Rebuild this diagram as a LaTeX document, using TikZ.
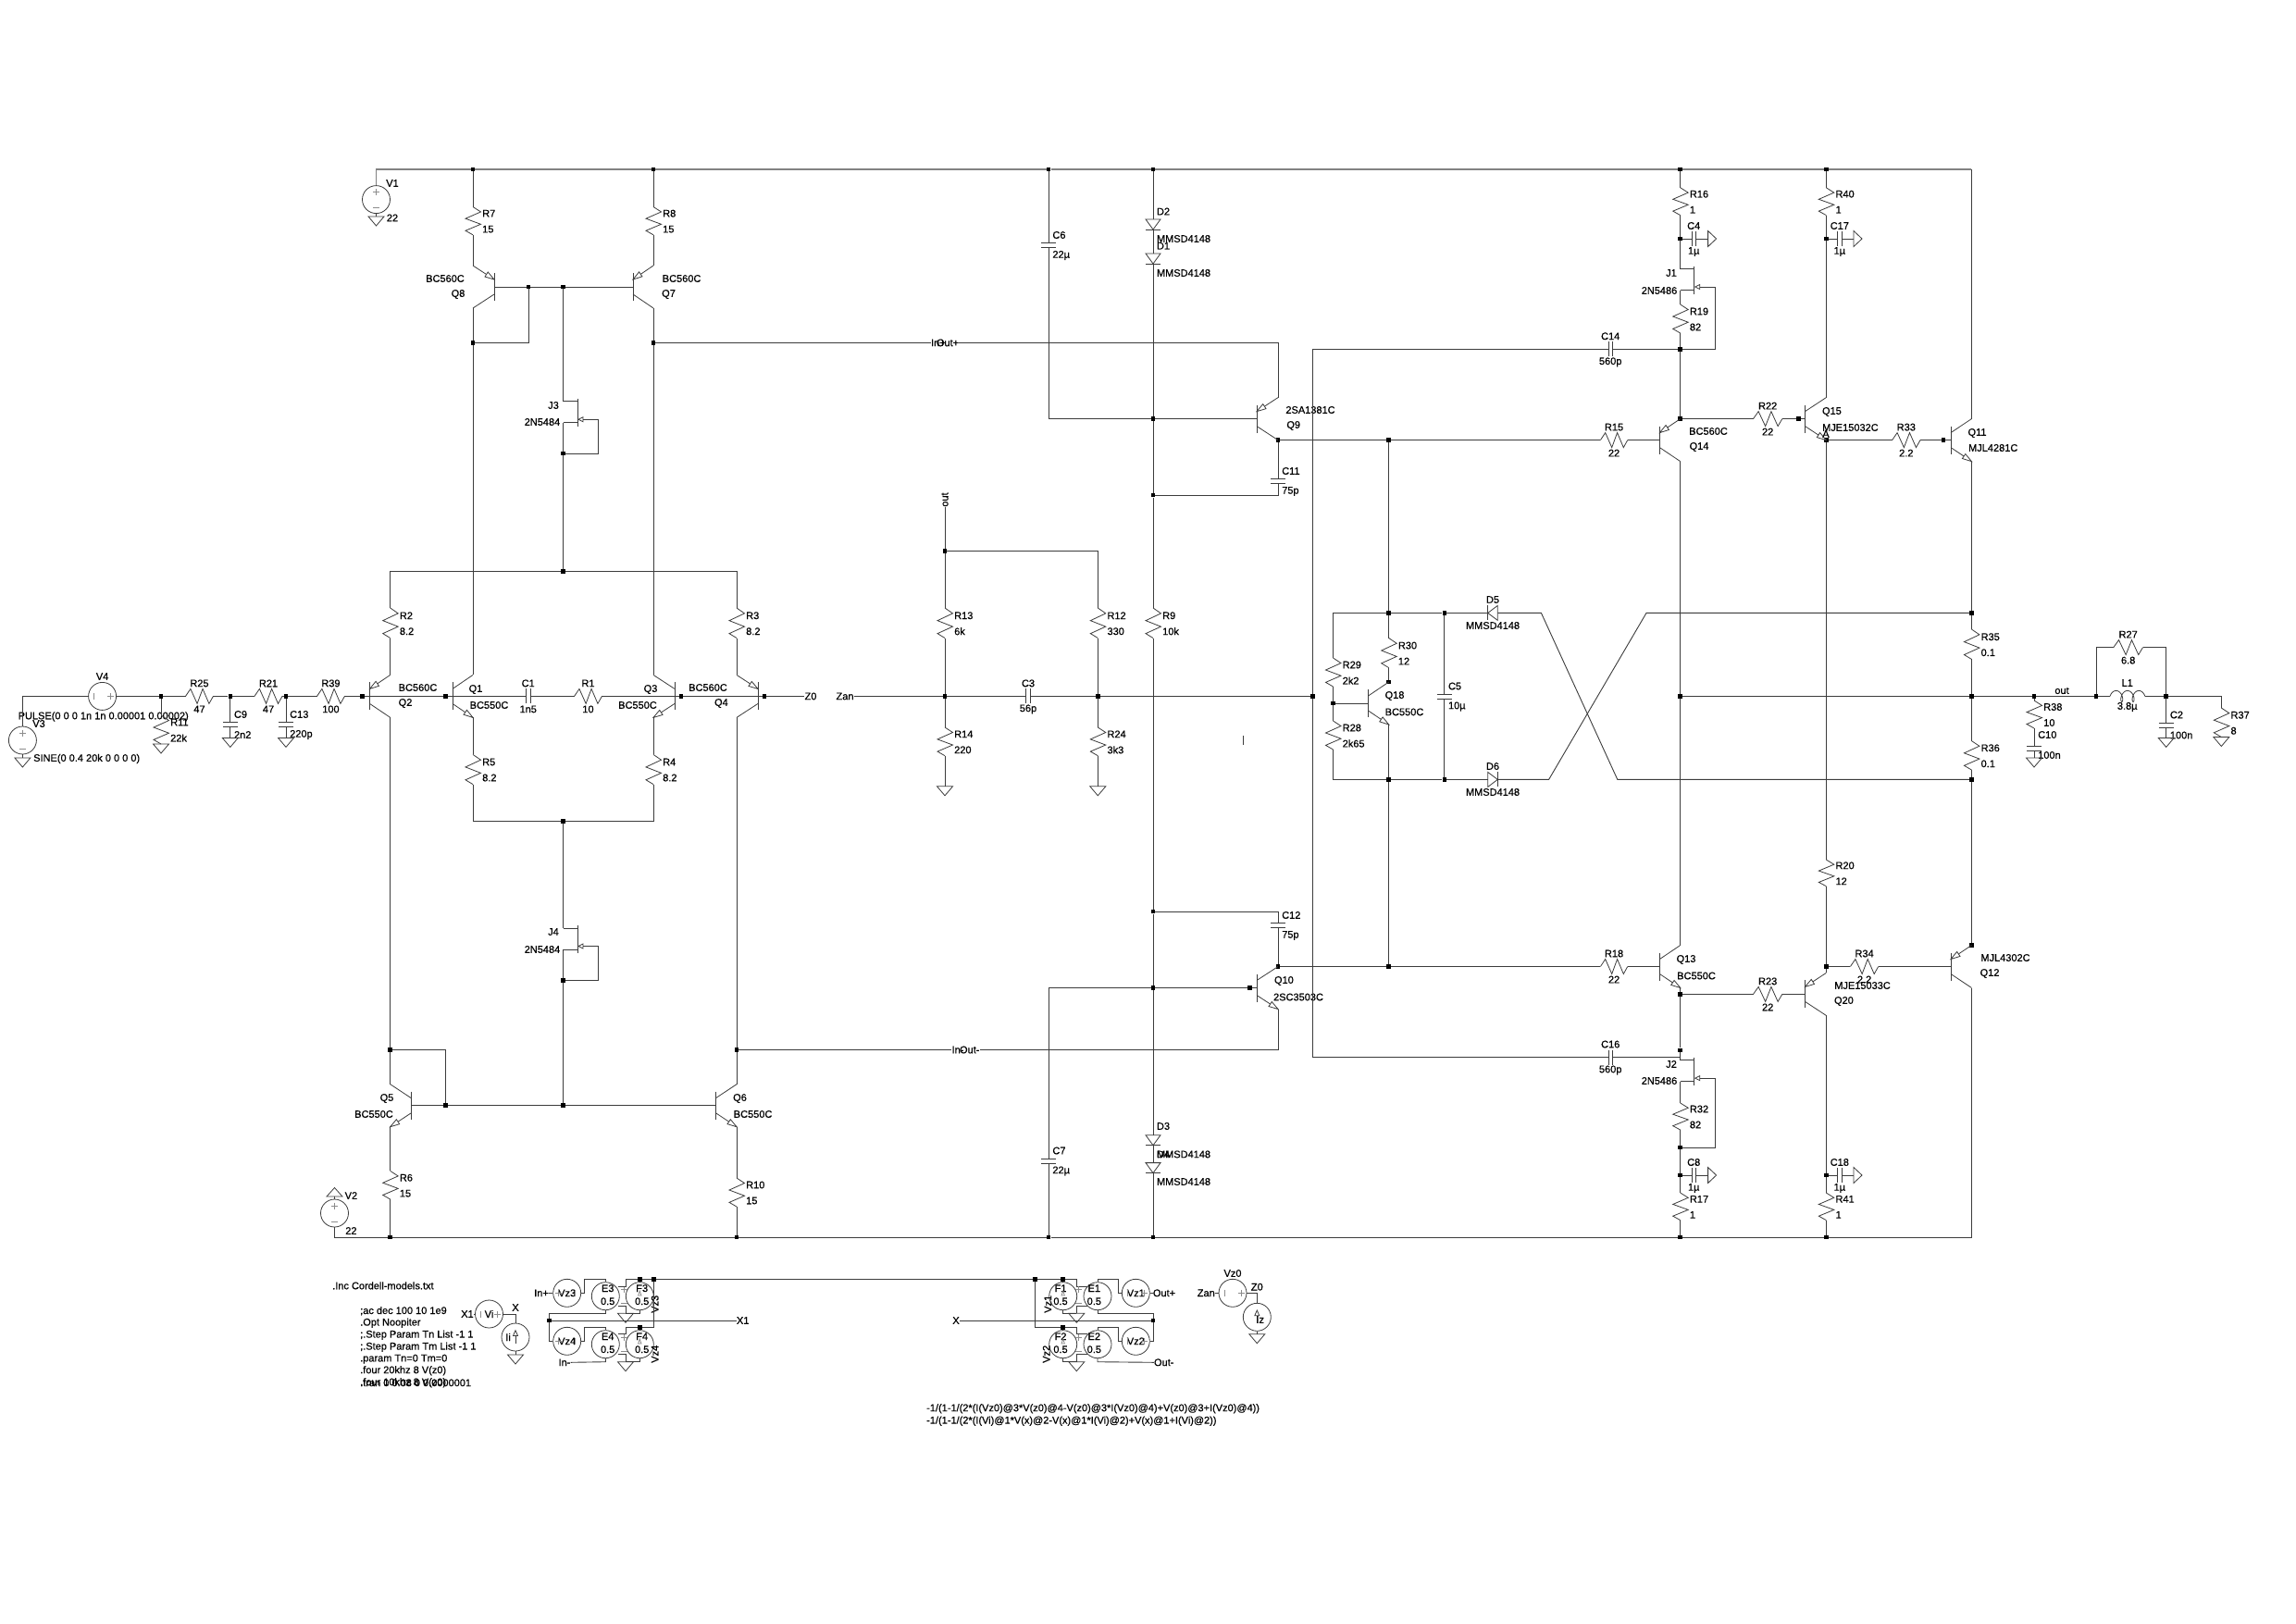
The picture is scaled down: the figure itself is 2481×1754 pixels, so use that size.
\documentclass[tikz,border=0pt]{standalone}
\usepackage{fontspec}
\newfontfamily\labelFont{Liberation Sans}[FakeBold=0.5]
\usetikzlibrary{calc}
\definecolor{wireColor}{RGB}{60,60,60}
\definecolor{markColor}{RGB}{140,140,140}
\definecolor{railColor}{RGB}{130,130,130}
\tikzstyle{sheet} = [x = 1pt, y = -1pt]
\tikzstyle{wire} = [color=wireColor, line width=.9pt]
\tikzstyle{railWire} = [color=railColor, line width=1.5pt]
\tikzstyle{symbolLine} = [color=wireColor, line width=.8pt]
\tikzstyle{markLine} = [color=markColor, line width=.8pt]
\tikzstyle{labelText} = [font=\fontsize{11}{11}\labelFont, inner sep=0pt, text=black]
\tikzstyle{junctionDot} = [rectangle, fill=black, inner sep=0pt, minimum size=4.5pt]
\tikzstyle{sourceCircle} = [labelText, circle, draw=wireColor, line width=.8pt, minimum size=30pt]
\newcommand{\junction}[3]{\node [junctionDot] (#1) at (#2,#3) {};}
\newcommand{\partText}[4]{\node [labelText] (#1) at (#2,#3) {#4};}
\newcommand{\partTextRight}[4]{\node [labelText, anchor=west] (#1) at (#2,#3) {#4};}
\newcommand{\plusMark}[2]{\draw [markLine] (#1-3.5,#2) -- (#1+3.5,#2) (#1,#2-3.5) -- (#1,#2+3.5);}
\newcommand{\minusMark}[2]{\draw [markLine] (#1-3.5,#2) -- (#1+3.5,#2);}
\newcommand{\tickMark}[2]{\draw [markLine] (#1,#2-3.5) -- (#1,#2+3.5);}
\newcommand{\verticalResistor}[6]{
  \pgfmathsetmacro{\resLength}{#4 - #3}
  \pgfmathsetmacro{\resMiddle}{(#3 + #4) / 2}
  \coordinate (#1a) at (#2,#3);
  \coordinate (#1b) at (#2,#4);
  \draw [symbolLine] (#1a) -- (#2+8.5,#3+.18*\resLength) -- (#2-8,#3+.42*\resLength) -- (#2+8.5,#3+.62*\resLength) -- (#2-8,#3+.85*\resLength) -- (#1b);
  \partTextRight{#1Name}{#2+10}{\resMiddle-8}{#5}
  \partTextRight{#1Value}{#2+10}{\resMiddle+9}{#6}
}
\newcommand{\horizontalResistor}[6]{
  \pgfmathsetmacro{\resLength}{#3 - #2}
  \pgfmathsetmacro{\resMiddle}{(#2 + #3) / 2}
  \coordinate (#1a) at (#2,#4);
  \coordinate (#1b) at (#3,#4);
  \draw [symbolLine] (#1a) -- (#2+.18*\resLength,#4-8) -- (#2+.42*\resLength,#4+8) -- (#2+.62*\resLength,#4-8) -- (#2+.85*\resLength,#4+8) -- (#1b);
  \partText{#1Name}{\resMiddle}{#4-14}{#5}
  \partText{#1Value}{\resMiddle}{#4+14}{#6}
}
\newcommand{\verticalCap}[6][0]{
  \coordinate (#2a) at (#3,#4-2.4);
  \coordinate (#2b) at (#3,#4+2.4);
  \draw [symbolLine] (#3-8,#4-2.4) -- (#3+8,#4-2.4) (#3-8,#4+2.4) -- (#3+8,#4+2.4);
  \partTextRight{#2Name}{#3+4}{#4-11+#1}{#5}
  \partTextRight{#2Value}{#3+4}{#4+11+#1}{#6}
}
\newcommand{\horizontalCap}[5]{
  \coordinate (#1a) at (#2-2.2,#3);
  \coordinate (#1b) at (#2+2.2,#3);
  \draw [symbolLine] (#2-2.2,#3-8) -- (#2-2.2,#3+8) (#2+2.2,#3-8) -- (#2+2.2,#3+8);
  \partText{#1Name}{#2}{#3-14}{#4}
  \partText{#1Value}{#2}{#3+14}{#5}
}
\newcommand{\groundDown}[3]{
  \coordinate (#1) at (#2,#3);
  \draw [symbolLine] (#2-8.5,#3) -- (#2+8.5,#3) -- (#2,#3+10) -- cycle;
}
\newcommand{\groundUp}[3]{
  \coordinate (#1) at (#2,#3);
  \draw [symbolLine] (#2-8.5,#3) -- (#2+8.5,#3) -- (#2,#3-9.5) -- cycle;
}
\newcommand{\groundRight}[3]{
  \coordinate (#1) at (#2,#3);
  \draw [symbolLine] (#2,#3-8.5) -- (#2,#3+8.5) -- (#2+9,#3) -- cycle;
}
\newcommand{\hollowArrow}[2]{
  \coordinate (arrowBack) at ($(#1)!10pt!(#2)$);
  \filldraw [symbolLine, fill=white] (#1) -- ($(arrowBack)!3pt!90:(#1)$) -- ($(arrowBack)!3pt!-90:(#1)$) -- cycle;
}
\newcommand{\bjtBody}[5]{
  \coordinate (#1b) at (#2,#3);
  \coordinate (#1e) at (#4,{#3+(#5)*23});
  \coordinate (#1c) at (#4,{#3-(#5)*23});
  \coordinate (#1eb) at (#2,{#3+(#5)*8});
  \coordinate (#1cb) at (#2,{#3-(#5)*8});
  \draw [symbolLine] (#2,#3-15) -- (#2,#3+15);
  \draw [symbolLine] (#1eb) -- (#1e);
  \draw [symbolLine] (#1cb) -- (#1c);
}
\newcommand{\npnTransistor}[5]{\bjtBody{#1}{#2}{#3}{#4}{#5}\hollowArrow{#1e}{#1eb}}
\newcommand{\pnpTransistor}[5]{\bjtBody{#1}{#2}{#3}{#4}{#5}\hollowArrow{#1eb}{#1e}}
\newcommand{\jfetPart}[5]{
  \coordinate (#1d) at (#2,#4);
  \coordinate (#1s) at (#2,#4+23);
  \coordinate (#1g) at (#5,#4+19.5);
  \draw [symbolLine] (#3,#4-3) -- (#3,#4+27);
  \draw [symbolLine] (#1d) -- (#3,#4);
  \draw [symbolLine] (#1s) -- (#3,#4+23);
  \draw [symbolLine] (#3+6,#4+19.5) -- (#1g);
  \draw [symbolLine] (#3+1,#4+19.5) -- (#3+6,#4+17) -- (#3+6,#4+22) -- cycle;
}
\newcommand{\downDiode}[3]{
  \coordinate (#1a) at (#2,#3);
  \coordinate (#1b) at (#2,#3+11);
  \draw [symbolLine] (#2-8,#3) -- (#2+8,#3) -- (#1b) -- cycle;
  \draw [symbolLine] (#2-8,#3+11) -- (#2+8,#3+11);
}
\newcommand{\leftDiode}[3]{
  \coordinate (#1a) at (#2-5.3,#3);
  \coordinate (#1b) at (#2+5.3,#3);
  \draw [symbolLine] (#1b) -- (#2+5.3,#3-8) -- (#1a) -- (#2+5.3,#3+8) -- cycle;
  \draw [symbolLine] (#2-5.3,#3-8) -- (#2-5.3,#3+8);
}
\newcommand{\rightDiode}[3]{
  \coordinate (#1a) at (#2-5.3,#3);
  \coordinate (#1b) at (#2+5.3,#3);
  \draw [symbolLine] (#1a) -- (#2-5.3,#3-8) -- (#1b) -- (#2-5.3,#3+8) -- cycle;
  \draw [symbolLine] (#2+5.3,#3-8) -- (#2+5.3,#3+8);
}
\newcommand{\coilPart}[3]{
  \coordinate (#1a) at (#2,#3);
  \coordinate (#1b) at (#2+37.8,#3);
  \draw [symbolLine] plot [domain=0:900, samples=120, smooth, variable=\coilAngle] ({#2+.0342*\coilAngle-3.5*cos(\coilAngle)+3.5},{#3-6*sin(\coilAngle)});
}
\newcommand{\voltageSource}[3]{
  \node [sourceCircle] (#1) at (#2,#3) {};
  \plusMark{#2}{#3-8}
  \minusMark{#2}{#3+9}
}
\newcommand{\tickPlusSource}[4]{
  \node [sourceCircle] (#1) at (#2,#3) {#4};
  \tickMark{#2-9}{#3}
  \plusMark{#2+9}{#3}
}
\newcommand{\plusTickSource}[4]{
  \node [sourceCircle] (#1) at (#2,#3) {#4};
  \plusMark{#2-9}{#3}
  \tickMark{#2+9}{#3}
}
\newcommand{\currentSource}[3]{
  \node [sourceCircle] (#1) at (#2,#3) {};
  \draw [symbolLine] (#2,#3+6.5) -- (#2,#3-1.6);
  \draw [symbolLine] (#2,#3-7.3) -- (#2-2.5,#3-1.6) -- (#2+2.5,#3-1.6) -- cycle;
}
\newcommand{\currentMark}[2]{
  \draw [markLine] (#1,#2-5.7) -- (#1-1.7,#2-.7) -- (#1+1.7,#2-.7) -- cycle;
}
\newcommand{\behaviorSource}[5]{
  \node [sourceCircle] (#1) at (#2,#3) {};
  \partText{#1Name}{#2+#5}{#3-8.5}{#1}
  \partText{#1Value}{#2+#5}{#3+5.5}{#4}
}
\newcommand{\terminalMarks}[2]{
  \plusMark{#1}{#2-7.5}
  \minusMark{#1}{#2+7.5}
}
\begin{document}
\begin{tikzpicture}[sheet]
\useasboundingbox (0,0) rectangle (2481,1754);
\foreach \dotName/\dotX/\dotY in {jR7/511/183, jR8/706/183, jC6/1133.2/183, jD2/1246/183, jR16/1815.7/183, jR40/1973.3/183,
  jR6/421.7/1337, jR10/796/1337, jC7/1133.2/1337, jD4/1246/1337, jR17/1815.7/1337, jR41/1973.3/1337,
  jQ8c/511/370.4, jQ7c/706/370.4, jQ8b/571/310, jJ3/608.7/310, jJ3low/608.7/490, jTail/608.7/617.4,
  jQ2b/391.3/752.4, jQ1b/481.5/752.4, jQ3b/736/752.4, jQ4b/826/752.4, jR11/174/752.4, jC9/248.8/752.4, jC13/309/752.4,
  jJ4top/608.7/887.5, jJ4low/608.7/1059.7, jJ4bottom/608.7/1194.7, jQ5c/421.7/1134.5, jQ5b/481.5/1194.7, jQ6c/796/1134.5,
  jR13top/1021/595.4, jR13mid/1021/752.4, jR12mid/1186.3/752.4, jFeed/1418.3/752.4,
  jQ9b/1246/452.6, jC11/1246/535.2, jQ9c/1381/475.6, jQ18top/1500.7/475.6, jC12/1246/985.2, jQ10b/1246/1067.5,
  jQ10base/1350.5/1067.5, jQ10c/1381/1044.5, jQ18low/1500.7/1044.5,
  jBiasTop/1500.7/662.4, jBiasLow/1500.7/842.4, jC5top/1560.8/662.4, jC5low/1560.8/842.4, jQ18b/1440.5/760, jQ18c/1500.7/737,
  jC4/1815.7/258, jC17/1973.3/258, jJ1low/1815.7/377.3, jQ14e/1815.7/452.6, jQ15b/1943.5/452.6, jQ15e/1973.3/475.6, jQ11b/2100/475.6,
  jR35top/2130.4/662.4, jOut/2130.4/752.4, jR36low/2130.4/842.4, jOutFb/1815.7/752.4, jR38/2198/752.4, jL1l/2265/752.4, jL1r/2340.7/752.4,
  jQ20e/1973.3/1044.5, jQ12e/2130.4/1021.5, jQ13e/1815.7/1074.4, jJ2d/1815.7/1134.9, jJ2low/1815.7/1240, jC8/1815.7/1270, jC18/1973.3/1270,
  jF3/691.3/1382.3, jBusL/706.7/1382.3, jF4/691.3/1434.3, jX1/593.7/1427, jBusR/1118.3/1382.3, jF1/1148.7/1382.3, jF2/1148.7/1434.3, jX/1246/1427}
  {\junction{\dotName}{\dotX}{\dotY}}
\foreach \pointName/\pointX/\pointY in {railStart/406.5/183, railEnd/2130.4/183, floorEnd/2130.4/1337,
  crossA/1665.4/662.4, crossB/1747.8/842.4, crossC/1673.6/842.4, crossD/1779/662.4, c16End/1815.7/1142.5, strayA/1343/795, strayB/1343/805,
  vzTurnA/631.7/1397.3, eTopA/654.3/1382.3, eFootA/654.3/1419.3, vzTurnB/631.7/1449.3, eTopB/654.3/1434.3, eFootB/654.3/1471.7,
  plusA/676/1382.3, plusAin/667.7/1390, minusAin/667.7/1411.7, plusB/676/1434.3, plusBin/667.7/1441.7, minusBin/667.7/1463, busLowL/706.7/1434.3,
  plusC/1163.3/1382.3, plusCin/1175/1390, minusCin/1175/1411.7, plusD/1163.3/1434.3, plusDin/1175/1441.7, minusDin/1175/1463, busLowR/1118.3/1434.3,
  eTopC/1186/1382.3, vzTurnC/1208.3/1397.3, eFootC/1186/1419.3, rightC/1246/1419.3, eTopD/1186/1434.3, vzTurnD/1208.3/1449.3, eFootD/1186/1471.7}
  {\coordinate (\pointName) at (\pointX,\pointY);}
\voltageSource{V1}{406.5}{215.6}
\voltageSource{V2}{361.5}{1311}
\voltageSource{V3}{24.4}{800}
\tickPlusSource{V4}{110.6}{752.4}{}
\groundDown{gV1}{406.5}{234}
\groundUp{gV2}{361.5}{1293}
\groundDown{gV3}{24.4}{819}
\partText{V1Name}{424}{198}{V1}
\partText{V1Value}{424}{235.4}{22}
\partText{V2Name}{379.4}{1292}{V2}
\partText{V2Value}{379.4}{1330}{22}
\partText{V3Name}{42}{782}{V3}
\partTextRight{V3Value}{36}{820}{SINE(0 0.4 20k 0 0 0 0)}
\partText{V4Name}{110.6}{731}{V4}
\partTextRight{V4Value}{19.5}{774.4}{PULSE(0 0 0 1n 1n 0.00001 0.00002)}
\verticalResistor{R7}{511}{223.5}{253.8}{R7}{15}
\verticalResistor{R8}{706}{223.5}{253.8}{R8}{15}
\verticalResistor{R2}{421.7}{657}{689.5}{R2}{8.2}
\verticalResistor{R3}{796}{657}{689.5}{R3}{8.2}
\verticalResistor{R5}{511}{815.4}{847.6}{R5}{8.2}
\verticalResistor{R4}{706}{815.4}{847.6}{R4}{8.2}
\verticalResistor{R6}{421.7}{1265.4}{1296}{R6}{15}
\verticalResistor{R10}{796}{1273}{1304}{R10}{15}
\verticalResistor{R11}{174}{773}{804}{R11}{22k}
\verticalResistor{R13}{1021}{657}{689.5}{R13}{6k}
\verticalResistor{R12}{1186.3}{657}{689.5}{R12}{330}
\verticalResistor{R9}{1246}{657}{689.5}{R9}{10k}
\verticalResistor{R14}{1021}{786}{816.7}{R14}{220}
\verticalResistor{R24}{1186.3}{786}{816.7}{R24}{3k3}
\verticalResistor{R29}{1440.5}{711}{742}{R29}{2k2}
\verticalResistor{R28}{1440.5}{779}{810}{R28}{2k65}
\verticalResistor{R30}{1500.7}{689.5}{721.6}{R30}{12}
\verticalResistor{R16}{1815.7}{202.8}{232.6}{R16}{1}
\verticalResistor{R40}{1973.3}{202.8}{232.6}{R40}{1}
\verticalResistor{R19}{1815.7}{329}{360}{R19}{82}
\verticalResistor{R20}{1973.3}{929}{957.7}{R20}{12}
\verticalResistor{R32}{1815.7}{1192}{1221}{R32}{82}
\verticalResistor{R17}{1815.7}{1289}{1318.6}{R17}{1}
\verticalResistor{R41}{1973.3}{1289}{1318.6}{R41}{1}
\verticalResistor{R35}{2130.4}{680}{712.4}{R35}{0.1}
\verticalResistor{R36}{2130.4}{800.6}{832}{R36}{0.1}
\verticalResistor{R38}{2198}{757}{787}{R38}{10}
\verticalResistor{R37}{2400.3}{765}{796.5}{R37}{8}
\horizontalResistor{R25}{200.5}{230.4}{752.4}{R25}{47}
\horizontalResistor{R21}{275}{305}{752.4}{R21}{47}
\horizontalResistor{R39}{342.5}{372.4}{752.4}{R39}{100}
\horizontalResistor{R1}{620.6}{650.4}{752.4}{R1}{10}
\horizontalResistor{R15}{1729.4}{1758.7}{475.6}{R15}{22}
\horizontalResistor{R18}{1729.4}{1758.7}{1044.5}{R18}{22}
\horizontalResistor{R22}{1894.5}{1925.8}{452.6}{R22}{22}
\horizontalResistor{R23}{1894.5}{1925.8}{1074.4}{R23}{22}
\horizontalResistor{R33}{2044.6}{2075}{475.6}{R33}{2.2}
\horizontalResistor{R34}{1999.4}{2029.7}{1044.5}{R34}{2.2}
\horizontalResistor{R27}{2283.8}{2315.5}{699.6}{R27}{6.8}
\verticalCap{C9}{248.8}{783}{C9}{2n2}
\verticalCap{C13}{309}{783}{C13}{220p}
\verticalCap{C6}{1133.2}{265}{C6}{22µ}
\verticalCap{C7}{1133.2}{1254.5}{C7}{22µ}
\verticalCap{C11}{1381}{520}{C11}{75p}
\verticalCap{C12}{1381}{1000}{C12}{75p}
\verticalCap{C5}{1560.8}{752.5}{C5}{10µ}
\verticalCap[-4]{C10}{2198}{809}{C10}{100n}
\verticalCap{C2}{2340.7}{783.5}{C2}{100n}
\horizontalCap{C1}{570.7}{752.4}{C1}{1n5}
\horizontalCap{C3}{1111}{752.4}{C3}{56p}
\horizontalCap{C14}{1740.2}{377.3}{C14}{560p}
\horizontalCap{C16}{1740.2}{1142.5}{C16}{560p}
\horizontalCap{C4}{1830.2}{258}{C4}{1µ}
\horizontalCap{C17}{1987.8}{258}{C17}{1µ}
\horizontalCap{C8}{1830.2}{1270}{C8}{1µ}
\horizontalCap{C18}{1987.8}{1270}{C18}{1µ}
\groundRight{gC4}{1845.6}{258}
\groundRight{gC17}{2003}{258}
\groundRight{gC8}{1845.6}{1270}
\groundRight{gC18}{2003}{1270}
\groundDown{gR11}{174}{804}
\groundDown{gC9}{248.8}{797.4}
\groundDown{gC13}{309}{797.4}
\groundDown{gR14}{1021}{849.8}
\groundDown{gR24}{1186.3}{849.8}
\groundDown{gC10}{2198}{819}
\groundDown{gC2}{2340.7}{797.4}
\groundDown{gR37}{2400.3}{796.5}
\pnpTransistor{Q8}{534}{310}{511}{-1}
\pnpTransistor{Q7}{684}{310}{706}{-1}
\pnpTransistor{Q2}{399.5}{752.4}{421.7}{-1}
\pnpTransistor{Q4}{819}{752.4}{796}{-1}
\npnTransistor{Q1}{489}{752.4}{511}{1}
\npnTransistor{Q3}{729}{752.4}{706}{1}
\npnTransistor{Q5}{444.4}{1194.7}{421.7}{1}
\npnTransistor{Q6}{773.4}{1194.7}{796}{1}
\pnpTransistor{Q9}{1358}{452.6}{1381}{-1}
\npnTransistor{Q10}{1358}{1067.5}{1381}{1}
\npnTransistor{Q18}{1478.5}{760}{1500.7}{1}
\pnpTransistor{Q14}{1793.4}{475.6}{1815.7}{-1}
\npnTransistor{Q13}{1793.4}{1044.5}{1815.7}{1}
\npnTransistor{Q15}{1950.5}{452.6}{1973.3}{1}
\pnpTransistor{Q20}{1950.5}{1074.4}{1973.3}{-1}
\npnTransistor{Q11}{2108}{475.6}{2130.4}{1}
\pnpTransistor{Q12}{2108}{1044.5}{2130.4}{-1}
\foreach \textName/\textX/\textY/\textBody in {Q8Type/481/301/BC560C, Q8Name/495/318/Q8, Q7Type/736.6/301/BC560C, Q7Name/722.5/318/Q7,
  Q2Type/451.5/743/BC560C, Q2Name/438/760/Q2, Q1Name/514/745/Q1, Q1Type/528.5/762/BC550C, Q3Name/703/745/Q3, Q3Type/689/762/BC550C,
  Q4Type/765/743/BC560C, Q4Name/779.4/760/Q4, Q5Name/418/1187/Q5, Q5Type/404/1204/BC550C, Q6Name/799.5/1187/Q6, Q6Type/813.6/1204/BC550C,
  Q9Type/1416/443/2SA1381C, Q9Name/1397.7/460/Q9, Q10Name/1387.4/1060/Q10, Q10Type/1403/1077.5/2SC3503C, Q18Name/1507/752/Q18, Q18Type/1517.5/769.4/BC550C,
  Q14Type/1846/466/BC560C, Q14Name/1836/483/Q14, Q13Name/1822/1037/Q13, Q13Type/1833/1054.5/BC550C, Q15Name/1979.4/445/Q15, Q15Type/1999.4/462/MJE15032C,
  Q20Type/2012.5/1065/MJE15033C, Q20Name/1992.4/1082/Q20, Q11Name/2136.5/468/Q11, Q11Type/2153.7/484/MJL4281C, Q12Type/2167/1035/MJL4302C, Q12Name/2150/1052/Q12,
  J3Name/598/438/J3, J3Type/586/456/2N5484, J4Name/598/1007/J4, J4Type/586/1026/2N5484, J1Name/1806/295/J1, J1Type/1793/314/2N5486, J2Name/1806/1150/J2, J2Type/1793/1168/2N5486,
  D2Name/1257/228.5/D2, D2Type/1279/258/MMSD4148, D1Name/1257/265.7/D1, D1Type/1279/295/MMSD4148, D3Name/1257/1217/D3, D3Type/1279/1247.4/MMSD4148, D4Name/1257/1247.4/D4, D4Type/1279/1277/MMSD4148,
  D5Name/1613/648/D5, D5Type/1613/676/MMSD4148, D6Name/1613/828/D6, D6Type/1613/856/MMSD4148,
  L1Name/2298.7/738/L1, L1Value/2298.7/764/3.8µ, outLabel/2228/746.4/out, markA/1973/469/A}
  {\partText{\textName}{\textX}{\textY}{\textBody}}
\jfetPart{J3}{608.7}{624}{433.7}{646.6}
\jfetPart{J4}{608.7}{624}{1003}{646.6}
\jfetPart{J1}{1815.7}{1830.7}{290.5}{1853.5}
\jfetPart{J2}{1815.7}{1830.7}{1145.6}{1853.5}
\downDiode{D2}{1246}{237}
\downDiode{D1}{1246}{274}
\downDiode{D3}{1246}{1226.7}
\downDiode{D4}{1246}{1256.6}
\leftDiode{D5}{1613}{662.4}
\rightDiode{D6}{1613}{842.4}
\coilPart{L1}{2280}{752.4}
\partText{InPlusNet}{1013.8}{370.4}{In+}
\partText{OutPlusNet}{1024}{370.4}{Out+}
\partText{InMinusNet}{1035}{1134.5}{In-}
\partText{OutMinusNet}{1047.7}{1134.5}{Out-}
\partText{Z0Net}{876}{752.4}{Z0}
\partText{ZanNet}{913}{752.4}{Zan}
\node [labelText, rotate=90] (outFeedback) at (1021,540) {out};
\draw [railWire] (V1.north) -- (railStart) -- (jR7) -- (jR8) -- (jC6) -- (jD2) -- (jR16) -- (jR40) -- (railEnd);
\draw [wire] (railEnd) -- (Q11c);
\draw [wire] (V1.south) -- (gV1);
\draw [wire] (V2.north) -- (gV2);
\draw [wire] (V2.south) |- (jR6) -- (jR10) -- (jC7) -- (jD4) -- (jR17) -- (jR41) -- (floorEnd) -- (Q12c);
\draw [wire] (V3.north) |- (V4.west);
\draw [wire] (V3.south) -- (gV3);
\draw [wire] (V4.east) -- (jR11) -- (R25a);
\draw [wire] (R25b) -- (jC9) -- (R21a);
\draw [wire] (R21b) -- (jC13) -- (R39a);
\draw [wire] (R39b) -- (jQ2b) -- (Q2b) -- (jQ1b) -- (Q1b) -- (C1a);
\draw [wire] (jR11) -- (R11a);
\draw [wire] (R11b) -- (gR11);
\draw [wire] (jC9) -- (C9a);
\draw [wire] (C9b) -- (gC9);
\draw [wire] (jC13) -- (C13a);
\draw [wire] (C13b) -- (gC13);
\draw [wire] (C1b) -- (R1a);
\draw [wire] (R1b) -- (Q3b) -- (jQ3b) -- (Q4b) -- (jQ4b) -- (Z0Net.west);
\draw [wire] (jR7) -- (R7a);
\draw [wire] (R7b) -- (Q8e);
\draw [wire] (Q8c) -- (jQ8c) -- (Q1c);
\draw [wire] (jQ8c) -| (jQ8b);
\draw [wire] (Q8b) -- (jQ8b) -- (jJ3) -- (Q7b);
\draw [wire] (jR8) -- (R8a);
\draw [wire] (R8b) -- (Q7e);
\draw [wire] (Q7c) -- (jQ7c) -- (Q3c);
\draw [wire] (jQ7c) -- (InPlusNet.west);
\draw [wire] (OutPlusNet.east) -| (Q9e);
\draw [wire] (jJ3) -- (J3d);
\draw [wire] (J3s) -- (jJ3low) -- (jTail);
\draw [wire] (J3g) |- (jJ3low);
\draw [wire] (jTail) -| (R2a);
\draw [wire] (jTail) -| (R3a);
\draw [wire] (R2b) -- (Q2e);
\draw [wire] (R3b) -- (Q4e);
\draw [wire] (Q2c) -- (jQ5c) -- (Q5c);
\draw [wire] (jQ5c) -| (jQ5b);
\draw [wire] (Q4c) -- (jQ6c) -- (Q6c);
\draw [wire] (Q5b) -- (jQ5b) -- (jJ4bottom) -- (Q6b);
\draw [wire] (Q5e) -- (R6a);
\draw [wire] (R6b) -- (jR6);
\draw [wire] (Q6e) -- (R10a);
\draw [wire] (R10b) -- (jR10);
\draw [wire] (Q1e) -- (R5a);
\draw [wire] (Q3e) -- (R4a);
\draw [wire] (R5b) |- (jJ4top);
\draw [wire] (R4b) |- (jJ4top);
\draw [wire] (jJ4top) -- (J4d);
\draw [wire] (J4s) -- (jJ4low) -- (jJ4bottom);
\draw [wire] (J4g) |- (jJ4low);
\draw [wire] (jQ6c) -- (InMinusNet.west);
\draw [wire] (OutMinusNet.east) -| (Q10e);
\draw [wire] (ZanNet.east) -- (jR13mid) -- (C3a);
\draw [wire] (C3b) -- (jR12mid) -- (jFeed);
\draw [wire] (outFeedback.west) -- (jR13top) -- (R13a);
\draw [wire] (jR13top) -| (R12a);
\draw [wire] (R13b) -- (jR13mid) -- (R14a);
\draw [wire] (R14b) -- (gR14);
\draw [wire] (R12b) -- (jR12mid) -- (R24a);
\draw [wire] (R24b) -- (gR24);
\draw [wire] (jC6) -- (C6a);
\draw [wire] (C6b) |- (jQ9b);
\draw [wire] (jD2) -- (D2a);
\draw [wire] (D2b) -- (D1a);
\draw [wire] (D1b) -- (jQ9b) -- (jC11) -- (R9a);
\draw [wire] (jQ9b) -- (Q9b);
\draw [wire] (R9b) -- (jC12) -- (jQ10b) -- (D3a);
\draw [wire] (D3b) -- (D4a);
\draw [wire] (D4b) -- (jD4);
\draw [wire] (jC7) -- (C7b);
\draw [wire] (C7a) |- (jQ10b);
\draw [wire] (jQ10b) -- (jQ10base) -- (Q10b);
\draw [wire] (jQ9c) -- (C11a);
\draw [wire] (C11b) |- (jC11);
\draw [wire] (jC12) -| (C12a);
\draw [wire] (C12b) -- (jQ10c);
\draw [wire] (jQ9c) -- (jQ18top) -- (R15a);
\draw [wire] (R15b) -- (Q14b);
\draw [wire] (jQ10c) -- (jQ18low) -- (R18a);
\draw [wire] (R18b) -- (Q13b);
\draw [wire] (jFeed) |- (C14a);
\draw [wire] (jFeed) |- (C16a);
\draw [wire] (C14b) -- (jJ1low);
\draw [wire] (C16b) -- (c16End);
\draw [wire] (jQ18top) -- (jBiasTop) -- (R30a);
\draw [wire] (R30b) -- (jQ18c);
\draw [wire] (Q18e) -- (jBiasLow) -- (jQ18low);
\draw [wire] (jBiasTop) -| (R29a);
\draw [wire] (R29b) -- (jQ18b) -- (R28a);
\draw [wire] (R28b) |- (jBiasLow);
\draw [wire] (jQ18b) -- (Q18b);
\draw [wire] (jBiasTop) -- (jC5top) -- (D5a);
\draw [wire] (jBiasLow) -- (jC5low) -- (D6a);
\draw [wire] (jC5top) -- (C5a);
\draw [wire] (C5b) -- (jC5low);
\draw [wire] (D5b) -- (crossA) -- (crossB) -- (jR36low);
\draw [wire] (D6b) -- (crossC) -- (crossD) -- (jR35top);
\draw [symbolLine] (strayA) -- (strayB);
\draw [wire] (jR16) -- (R16a);
\draw [wire] (R16b) -- (jC4) -- (J1d);
\draw [wire] (jC4) -- (C4a);
\draw [wire] (C4b) -- (gC4);
\draw [wire] (J1s) -- (R19a);
\draw [wire] (R19b) -- (jJ1low) -- (jQ14e);
\draw [wire] (J1g) |- (jJ1low);
\draw [wire] (jQ14e) -- (R22a);
\draw [wire] (R22b) -- (jQ15b) -- (Q15b);
\draw [wire] (jR40) -- (R40a);
\draw [wire] (R40b) -- (jC17) -- (Q15c);
\draw [wire] (jC17) -- (C17a);
\draw [wire] (C17b) -- (gC17);
\draw [wire] (jQ15e) -- (R33a);
\draw [wire] (R33b) -- (jQ11b) -- (Q11b);
\draw [wire] (jQ15e) -- (R20a);
\draw [wire] (R20b) -- (jQ20e) -- (Q20e);
\draw [wire] (jQ20e) -- (R34a);
\draw [wire] (R34b) -- (Q12b);
\draw [wire] (Q20c) -- (jC18) -- (R41a);
\draw [wire] (R41b) -- (jR41);
\draw [wire] (jC18) -- (C18a);
\draw [wire] (C18b) -- (gC18);
\draw [wire] (Q14c) -- (jOutFb) -- (Q13c);
\draw [wire] (Q13e) -- (jQ13e) -- (jJ2d) -- (J2d);
\draw [wire] (jQ13e) -- (R23a);
\draw [wire] (R23b) -- (Q20b);
\draw [wire] (J2s) -- (R32a);
\draw [wire] (R32b) -- (jJ2low) -- (jC8) -- (R17a);
\draw [wire] (J2g) |- (jJ2low);
\draw [wire] (jC8) -- (C8a);
\draw [wire] (C8b) -- (gC8);
\draw [wire] (R17b) -- (jR17);
\draw [wire] (Q11e) -- (jR35top) -- (R35a);
\draw [wire] (R35b) -- (jOut) -- (R36a);
\draw [wire] (R36b) -- (jR36low) -- (jQ12e);
\draw [wire] (jOutFb) -- (jOut) -- (jR38) -- (jL1l) -- (L1a);
\draw [wire] (L1b) -- (jL1r);
\draw [wire] (jR38) -- (R38a);
\draw [wire] (R38b) -- (C10a);
\draw [wire] (C10b) -- (gC10);
\draw [wire] (jL1l) |- (R27a);
\draw [wire] (R27b) -| (jL1r);
\draw [wire] (jL1r) -- (C2a);
\draw [wire] (C2b) -- (gC2);
\draw [wire] (jL1r) -| (R37a);
\draw [wire] (R37b) -- (gR37);
\foreach \noteName/\noteY/\noteBody in {noteAc/1416.7/;ac dec 100 10 1e9, noteOpt/1429.7/.Opt Noopiter, noteStepN/1442.7/;.Step Param Tn List -1 1,
  noteStepM/1455.7/;.Step Param Tm List -1 1, noteParam/1468.7/.param Tn=0 Tm=0, noteFourA/1481.3/.four 20khz 8 V(z0),
  noteFourB/1494.3/.four 10khz 8 V(z0), noteTran/1494.3/.tran 0 0.08 0 0.0000001}
  {\partTextRight{\noteName}{389}{\noteY}{\noteBody}}
\partTextRight{noteInc}{359}{1389.3}{.Inc Cordell-models.txt}
\partTextRight{noteLoopA}{1001}{1522.3}{-1/(1-1/(2*(I(Vz0)@3*V(z0)@4-V(z0)@3*I(Vz0)@4)+V(z0)@3+I(Vz0)@4))}
\partTextRight{noteLoopB}{1001}{1535.7}{-1/(1-1/(2*(I(Vi)@1*V(x)@2-V(x)@1*I(Vi)@2)+V(x)@1+I(Vi)@2))}
\tickPlusSource{Vi}{528.5}{1420}{Vi}
\currentSource{Ii}{557}{1445}
\groundDown{gIi}{557}{1464}
\partText{X1Near}{505}{1420}{X1}
\partText{XNear}{557}{1413}{X}
\partText{IiName}{549}{1445}{Ii}
\draw [wire] (X1Near.east) -- (Vi.west);
\draw [wire] (Vi.east) -| (Ii.north);
\draw [wire] (Ii.south) -- (gIi);
\plusTickSource{Vz3}{612.7}{1397.3}{Vz3}
\plusTickSource{Vz4}{612.7}{1449.3}{Vz4}
\behaviorSource{E3}{654.3}{1400.7}{0.5}{2.4}
\behaviorSource{E4}{654.3}{1452.7}{0.5}{2.4}
\behaviorSource{F3}{691.3}{1400.7}{0.5}{2.4}
\behaviorSource{F4}{691.3}{1452.7}{0.5}{2.4}
\currentMark{691.3}{1400.7}
\currentMark{691.3}{1452.7}
\terminalMarks{674}{1400.8}
\terminalMarks{674}{1452.8}
\groundDown{gF3}{676}{1419.3}
\groundDown{gF4}{676}{1471.7}
\partText{InPlusTest}{585}{1397.3}{In+}
\partText{InMinusTest}{610}{1472.3}{In-}
\partText{X1Net}{802.7}{1427}{X1}
\node [labelText, rotate=90] (Vz3Side) at (707.7,1409.3) {Vz3};
\node [labelText, rotate=90] (Vz4Side) at (707.7,1463.3) {Vz4};
\draw [wire] (InPlusTest.east) -- (Vz3.west);
\draw [wire] (Vz3.east) -- (vzTurnA) |- (eTopA) -- (E3.north);
\draw [wire] (E3.south) -- (eFootA) -| (jX1);
\draw [wire] (jX1) |- (Vz4.west);
\draw [wire] (jX1) -- (X1Net.west);
\draw [wire] (Vz4.east) -- (vzTurnB) |- (eTopB) -- (E4.north);
\draw [wire] (E4.south) -- (eFootB) -- (InMinusTest.east);
\draw [wire] (plusAin) -| (plusA) -- (jF3) -- (jBusL) -- (jBusR) -- (jF1) -- (plusC) |- (plusCin);
\draw [wire] (jF3) -- (F3.north);
\draw [wire] (F3.south) |- (gF3);
\draw [wire] (minusAin) -| (gF3);
\draw [wire] (jBusL) -- (busLowL) -- (jF4) -- (plusB) |- (plusBin);
\draw [wire] (jF4) -- (F4.north);
\draw [wire] (F4.south) |- (gF4);
\draw [wire] (minusBin) -| (gF4);
\tickPlusSource{Vz1}{1227.3}{1397.3}{Vz1}
\tickPlusSource{Vz2}{1227.3}{1449.3}{Vz2}
\behaviorSource{F1}{1148.7}{1400.7}{0.5}{-2.7}
\behaviorSource{F2}{1148.7}{1452.7}{0.5}{-2.7}
\behaviorSource{E1}{1186}{1400.7}{0.5}{-3.7}
\behaviorSource{E2}{1186}{1452.7}{0.5}{-3.7}
\currentMark{1148.7}{1400.7}
\currentMark{1148.7}{1452.7}
\terminalMarks{1165.7}{1400.8}
\terminalMarks{1165.7}{1452.8}
\groundDown{gF1}{1163.3}{1419.3}
\groundDown{gF2}{1163.3}{1471.7}
\partText{OutPlusTest}{1258}{1397.3}{Out+}
\partText{OutMinusTest}{1257.7}{1472.3}{Out-}
\partText{XNet}{1033}{1427}{X}
\node [labelText, rotate=90] (Vz1Side) at (1132.3,1409.3) {Vz1};
\node [labelText, rotate=90] (Vz2Side) at (1130.7,1463.3) {Vz2};
\draw [wire] (F1.north) -- (jF1);
\draw [wire] (F1.south) |- (gF1);
\draw [wire] (minusCin) -| (gF1);
\draw [wire] (E1.north) -- (eTopC) -| (vzTurnC) -- (Vz1.west);
\draw [wire] (Vz1.east) -- (OutPlusTest.west);
\draw [wire] (E1.south) -- (eFootC) -- (rightC) -- (jX);
\draw [wire] (XNet.east) -- (jX);
\draw [wire] (jX) |- (Vz2.east);
\draw [wire] (Vz2.west) -- (vzTurnD) |- (eTopD) -- (E2.north);
\draw [wire] (E2.south) -- (eFootD) -- (OutMinusTest.west);
\draw [wire] (jBusR) -- (busLowR) -- (jF2) -- (plusD) |- (plusDin);
\draw [wire] (jF2) -- (F2.north);
\draw [wire] (F2.south) |- (gF2);
\draw [wire] (minusDin) -| (gF2);
\tickPlusSource{Vz0}{1332}{1397.3}{}
\currentSource{Iz}{1358.3}{1423.3}
\groundDown{gIz}{1358.3}{1441.7}
\partText{Vz0Name}{1332}{1376}{Vz0}
\partText{ZanTest}{1303.3}{1397.3}{Zan}
\partText{Z0Test}{1358.3}{1390.7}{Z0}
\partText{IzName}{1361.7}{1426}{Iz}
\draw [wire] (ZanTest.east) -- (Vz0.west);
\draw [wire] (Vz0.east) -| (Iz.north);
\draw [wire] (Iz.south) -- (gIz);
\end{tikzpicture}
\end{document}
